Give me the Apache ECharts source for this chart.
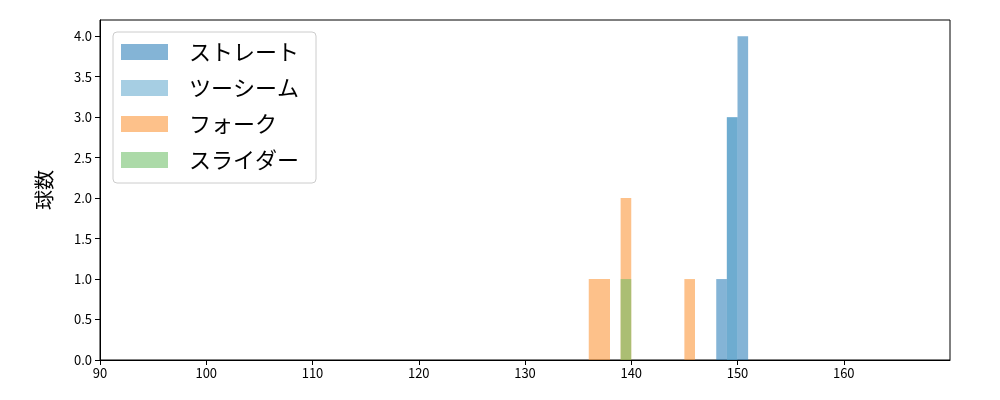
<!DOCTYPE html>
<html><head><meta charset="utf-8">
<script src="https://cdn.jsdelivr.net/npm/echarts@6/dist/echarts.min.js"></script>
<style>html,body{margin:0;padding:0;background:#fff}#c{width:1000px;height:400px}</style>
</head><body><div id="c"></div>
<script>
// Histogram bins: [binStart, binEnd, count]
const seriesNames = ['ストレート', 'ツーシーム', 'フォーク', 'スライダー'];
const straight = [[148, 149, 1], [149, 150, 3], [150, 151, 4]];
const twoSeam = [[149, 150, 3]];
const fork = [[136, 138, 1], [139, 140, 2], [145, 146, 1]];
const slider = [[139, 140, 1]];
const xTicks = [90, 100, 110, 120, 130, 140, 150, 160];
const yTicks = [0, 0.5, 1, 1.5, 2, 2.5, 3, 3.5, 4];

const colors = ['#1f77b4', '#5da6cc', '#fb8e2a', '#68bc61'];
const datasets = [straight, twoSeam, fork, slider];
const font = '"Noto Sans CJK JP", "DejaVu Sans", sans-serif';

function renderItem(params, api) {
  const p0 = api.coord([api.value(0), api.value(2)]);
  const p1 = api.coord([api.value(1), 0]);
  return {
    type: 'rect',
    shape: { x: p0[0], y: p0[1], width: p1[0] - p0[0], height: p1[1] - p0[1] },
    style: { fill: api.visual('color'), opacity: 0.55 }
  };
}

const chart = echarts.init(document.getElementById('c'), null, { renderer: 'canvas' });
chart.setOption({
  animation: false,
  grid: { left: 100, right: 50, top: 20, bottom: 40, show: true, borderColor: '#000', borderWidth: 1, backgroundColor: 'transparent' },
  legend: {
    left: 113, top: 32, orient: 'vertical',
    itemWidth: 47, itemHeight: 16, itemGap: 14,
    padding: [9, 17, 12, 8],
    borderColor: '#cccccc', borderWidth: 1, borderRadius: 4,
    backgroundColor: '#fff',
    textStyle: { fontSize: 22, fontFamily: font, color: '#000', padding: [0, 0, 0, 16] },
    data: seriesNames.map((n, i) => ({ name: n, icon: 'rect', itemStyle: { color: colors[i], opacity: 0.55 } }))
  },
  xAxis: {
    type: 'value', min: 90, max: 170,
    axisLine: { show: true, onZero: false, lineStyle: { color: '#000', width: 1 } },
    axisTick: { show: true, length: 5, lineStyle: { color: '#000' }, customValues: xTicks },
    axisLabel: { color: '#000', fontSize: 13, fontFamily: font, margin: 7, customValues: xTicks },
    splitLine: { show: false }
  },
  yAxis: {
    type: 'value', min: 0, max: 4.2,
    name: '球数', nameLocation: 'middle', nameGap: 46,
    nameTextStyle: { fontSize: 20, fontFamily: font, color: '#000' },
    axisLine: { show: true, lineStyle: { color: '#000', width: 1 } },
    axisTick: { show: true, length: 5, lineStyle: { color: '#000' }, customValues: yTicks },
    axisLabel: { color: '#000', fontSize: 13, fontFamily: font, margin: 8, customValues: yTicks, formatter: v => v.toFixed(1) },
    splitLine: { show: false }
  },
  series: datasets.map((d, i) => ({
    name: seriesNames[i], type: 'custom', renderItem: renderItem,
    itemStyle: { color: colors[i] },
    encode: { x: [0, 1], y: 2 },
    data: d
  }))
});
</script></body></html>
